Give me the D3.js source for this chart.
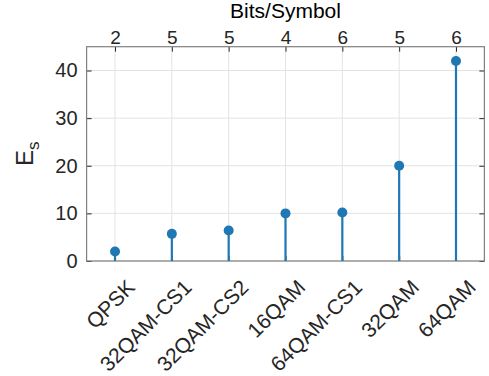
<!DOCTYPE html>
<html>
<head>
<meta charset="utf-8">
<script src="https://cdn.jsdelivr.net/npm/d3@7"></script>
<style>
  body { margin: 0; background: #fff; }
  svg { font-family: "Liberation Sans", Arial, Helvetica, sans-serif; }
  .grid line { stroke: #e3e3e3; stroke-width: 1; }
  .tick text { fill: #262626; }
</style>
</head>
<body>
<div class="visualizate"></div>
<script>
'use strict'

let width = 489;
let height = 376;

const schemes = ['QPSK', '32QAM-CS1', '32QAM-CS2', '16QAM', '64QAM-CS1', '32QAM', '64QAM'];
const bitsPerSymbol = [2, 5, 5, 4, 6, 5, 6];
const energy = [2, 5.7, 6.4, 10, 10.2, 20, 42];
const yTicks = [0, 10, 20, 30, 40];

const boxLeft = 86.6, boxRight = 484.4, boxTop = 46.7, boxBottom = 261;
const stemColor = '#1f77b4';
const axisColor = '#808080';

/* X AXIS - category index, limits 0.5 .. n+0.5 */
const xScale = d3.scaleLinear()
                 .domain([0.5, schemes.length + 0.5])
                 .range([boxLeft, boxRight]);
const idx = schemes.map((d, i) => i + 1);

/* Y AXIS */
const yScale = d3.scaleLinear()
                 .domain([0, 45])
                 .range([boxBottom, boxTop]);

const svg = d3.select('.visualizate')
              .append('svg')
              .attr('width', width)
              .attr('height', height);

/* grid */
const grid = svg.append('g').attr('class', 'grid');
grid.selectAll('line.gx')
   .data(idx)
   .enter()
   .append('line')
   .attr('class', 'gx')
   .attr('x1', d => xScale(d)).attr('x2', d => xScale(d))
   .attr('y1', boxTop).attr('y2', boxBottom);

grid.selectAll('line.gy')
   .data(yTicks)
   .enter()
   .append('line')
   .attr('class', 'gy')
   .attr('x1', boxLeft).attr('x2', boxRight)
   .attr('y1', d => yScale(d)).attr('y2', d => yScale(d));

/* axes, MATLAB style: inward ticks on all four sides */
const tickLen = 5;

const xAxis = d3.axisBottom(xScale)
                .tickValues(idx)
                .tickFormat((d, i) => schemes[i])
                .tickSizeInner(-tickLen)
                .tickSizeOuter(0);
const gx = svg.append('g')
   .attr('transform', 'translate(0,' + boxBottom + ')')
   .call(xAxis);
gx.selectAll('.tick text')
  .style('font-size', '21px')
  .attr('text-anchor', 'end')
  .attr('y', 0)
  .attr('dy', '0.72em')
  .attr('transform', 'translate(10,17) rotate(-45)');

const xTop = d3.axisTop(xScale)
               .tickValues(idx)
               .tickFormat((d, i) => bitsPerSymbol[i])
               .tickSizeInner(-tickLen)
               .tickSizeOuter(0);
const gt = svg.append('g')
   .attr('transform', 'translate(0,' + boxTop + ')')
   .call(xTop);
gt.selectAll('.tick text')
  .style('font-size', '19px')
  .attr('y', -3);

const yAxis = d3.axisLeft(yScale)
                .tickValues(yTicks)
                .tickSizeInner(-tickLen)
                .tickSizeOuter(0);
const gy = svg.append('g')
   .attr('transform', 'translate(' + boxLeft + ',0)')
   .call(yAxis);
gy.selectAll('.tick text').style('font-size', '20px').attr('x', -9);

const yRight = d3.axisRight(yScale)
                 .tickValues(yTicks)
                 .tickSizeInner(-tickLen)
                 .tickSizeOuter(0)
                 .tickFormat('');
svg.append('g')
   .attr('transform', 'translate(' + boxRight + ',0)')
   .call(yRight);

svg.selectAll('.domain').remove();
svg.selectAll('.tick line').attr('stroke', '#262626');

/* box */
svg.append('rect')
   .attr('x', boxLeft).attr('y', boxTop)
   .attr('width', boxRight - boxLeft).attr('height', boxBottom - boxTop)
   .attr('fill', 'none')
   .attr('stroke', axisColor)
   .attr('stroke-width', 1.2);

/* stems */
svg.selectAll('line.stem')
   .data(energy)
   .enter()
   .append('line')
   .attr('class', 'stem')
   .attr('x1', (d, i) => xScale(i + 1)).attr('x2', (d, i) => xScale(i + 1))
   .attr('y1', yScale(0)).attr('y2', d => yScale(d))
   .attr('stroke', stemColor)
   .attr('stroke-width', 2.2);

svg.selectAll('circle.mark')
   .data(energy)
   .enter()
   .append('circle')
   .attr('class', 'mark')
   .attr('cx', (d, i) => xScale(i + 1))
   .attr('cy', d => yScale(d))
   .attr('r', 5)
   .attr('fill', stemColor);

/* titles */
svg.append('text')
   .attr('x', (boxLeft + boxRight) / 2)
   .attr('y', 18)
   .attr('text-anchor', 'middle')
   .style('font-size', '21px')
   .attr('fill', '#000')
   .text('Bits/Symbol');

const yl = svg.append('text')
   .attr('transform', 'translate(33,' + ((boxTop + boxBottom) / 2) + ') rotate(-90)')
   .attr('text-anchor', 'middle')
   .style('font-size', '24px')
   .attr('fill', '#262626');
yl.append('tspan').text('E');
yl.append('tspan').attr('dy', 6).style('font-size', '17px').text('s');
</script>
</body>
</html>
